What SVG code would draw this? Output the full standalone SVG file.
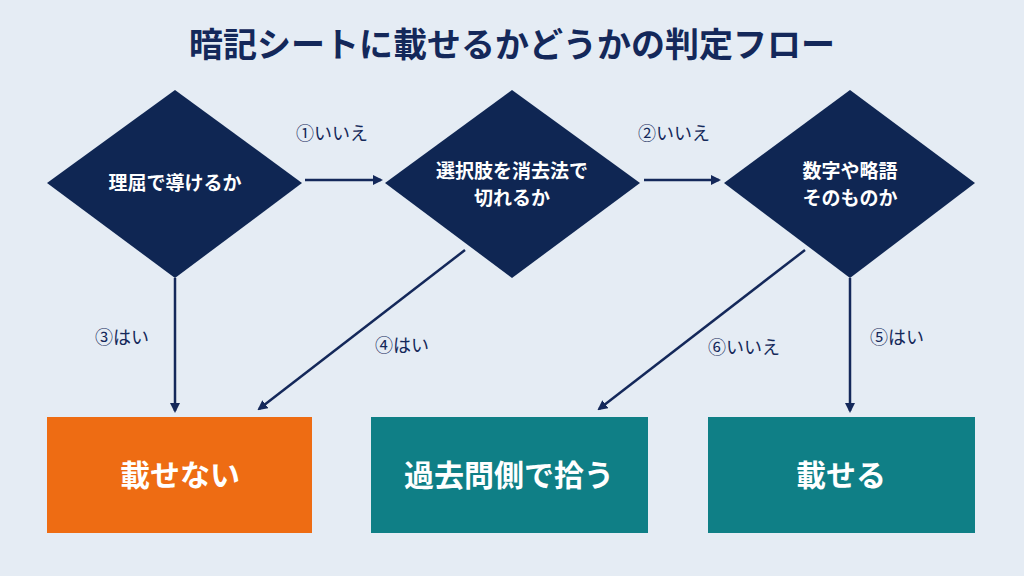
<svg xmlns="http://www.w3.org/2000/svg" width="1024" height="576" viewBox="0 0 1024 576">
<defs>
<marker id="ah" markerWidth="10" markerHeight="10" refX="8" refY="5" orient="auto" markerUnits="userSpaceOnUse"><path d="M0,0 L10,5 L0,10 Z" fill="#14285a"/></marker>
<style>
text{font-family:"Noto Sans CJK JP","Noto Sans",sans-serif;text-anchor:middle;font-weight:bold}
.d{fill:#0f2653}
.t{fill:#fff;font-size:19px}
.b{fill:#fff;font-size:30px}
.l{fill:#14285a;font-size:18px;font-weight:normal}
.c line{stroke:#14285a;stroke-width:2.5;marker-end:url(#ah)}
</style>
</defs>
<rect width="1024" height="576" fill="#e5ecf4"/>
<text x="512" y="57" style="font-size:34px;fill:#14285a">暗記シートに載せるかどうかの判定フロー</text>
<g id="n1"><polygon class="d" points="175,90 302,183 175,278 47,183"/><text class="t" x="175" y="190">理屈で導けるか</text></g>
<g id="n2"><polygon class="d" points="512,90 640,183 512,278 385,183"/><text class="t" x="512" y="178">選択肢を消去法で</text><text class="t" x="512" y="205">切れるか</text></g>
<g id="n3"><polygon class="d" points="850,90 975,183 850,278 724,183"/><text class="t" x="850" y="178">数字や略語</text><text class="t" x="850" y="205">そのものか</text></g>
<g id="b1"><rect x="47" y="417" width="265" height="116" fill="#ee6c13"/><text class="b" x="180" y="486">載せない</text></g>
<g id="b2"><rect x="371" y="417" width="277" height="116" fill="#0f7f86"/><text class="b" x="509" y="486">過去問側で拾う</text></g>
<g id="b3"><rect x="708" y="417" width="267" height="116" fill="#0f7f86"/><text class="b" x="841" y="486">載せる</text></g>
<g class="c" id="connectors">
<line x1="305" y1="180" x2="381" y2="180"/>
<line x1="644" y1="180" x2="719" y2="180"/>
<line x1="175" y1="278" x2="175" y2="411"/>
<line x1="465" y1="250" x2="259" y2="409"/>
<line x1="805" y1="250" x2="599" y2="409"/>
<line x1="850" y1="278" x2="850" y2="411"/>
</g>
<g id="labels">
<text class="l" x="332" y="140">①いいえ</text>
<text class="l" x="674" y="140">②いいえ</text>
<text class="l" x="122" y="344">③はい</text>
<text class="l" x="402" y="352">④はい</text>
<text class="l" x="744" y="354">⑥いいえ</text>
<text class="l" x="897" y="344">⑤はい</text>
</g>
</svg>
